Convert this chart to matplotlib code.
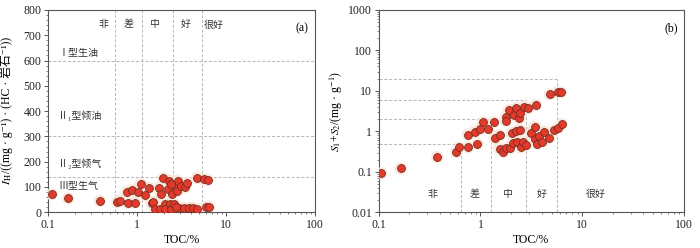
import matplotlib
matplotlib.use("Agg")
import matplotlib.pyplot as plt
from matplotlib.ticker import MultipleLocator, LogLocator, NullFormatter, FixedLocator, FixedFormatter

plt.rcParams['font.family'] = ['Liberation Serif', 'Noto Sans CJK SC', 'DejaVu Sans']
plt.rcParams['mathtext.fontset'] = 'stix'
plt.rcParams['axes.unicode_minus'] = False

# panel (a): TOC vs hydrogen index
toc_a = [0.109, 0.168, 0.38, 0.6, 0.64, 0.76, 0.78, 0.88, 0.94, 1.03, 1.09, 1.23,
         1.36, 1.45, 1.52, 1.58, 1.78, 1.84, 1.97, 1.82, 2.05, 2.08, 2.28, 2.24,
         2.35, 2.42, 2.45, 2.58, 2.6, 2.85, 2.8, 2.95, 3.1, 3.45, 3.6, 3.35, 3.8,
         4.2, 4.75, 4.7, 5.6, 6.2, 5.9, 6.4, 2.4, 2.7]
ih = [71, 55, 45, 40, 46, 82, 36, 87, 38, 79, 112, 67,
      97, 36, 42, 14, 97, 74, 135, 14, 33, 14, 124, 94,
      33, 14, 74, 106, 33, 125, 85, 16, 104, 98, 117, 17, 17,
      17, 13, 137, 130, 128, 21, 21, 112, 22]

# panel (b): TOC vs S1+S2
toc_b = [0.106, 0.164, 0.377, 0.58, 0.62, 0.75, 0.75, 0.88, 0.93, 1.0, 1.06, 1.19,
         1.35, 1.38, 1.54, 1.54, 1.66, 1.8, 1.77, 1.77, 1.9, 1.95, 2.04, 2.1,
         2.15, 2.25, 2.25, 2.3, 2.4, 2.45, 2.45, 2.5, 2.6, 2.7, 2.8, 2.95,
         3.15, 3.4, 3.5, 3.4, 3.6, 3.8, 4.0, 4.2, 4.7, 4.8, 5.3, 5.8, 5.8, 6.2, 6.3]
s1s2 = [0.092, 0.122, 0.23, 0.31, 0.4, 0.4, 0.83, 0.98, 0.5, 1.15, 1.7, 1.15,
        1.7, 0.67, 0.8, 0.37, 0.31, 0.38, 2.3, 1.85, 3.4, 0.38, 0.92, 0.52,
        2.5, 3.7, 1.0, 0.55, 2.1, 2.8, 1.1, 0.4, 0.55, 4.0, 0.45, 3.7,
        0.9, 1.3, 4.5, 0.63, 0.5, 0.77, 0.56, 0.98, 0.7, 8.2, 1.05, 9.2, 1.2, 9.2, 1.5]

# grade boundaries
bounds_a = [0.56, 1.12, 2.5, 5.3]
ih_lines = [600, 300, 140]
bounds_b = [0.64, 1.28, 2.8, 5.7]
s_lines = [0.5, 2, 6, 20]
grades = ['非', '差', '中', '好', '很好']
grade_x_a = [0.42, 0.8, 1.6, 3.5, 7.2]
grade_x_b = [0.34, 0.88, 1.87, 4.05, 13.5]
types = ['Ⅰ型生油', 'Ⅱ\u2081型倾油', 'Ⅱ\u2082型倾气', 'Ⅲ型生气']
type_y = [628, 380, 191, 101]

red = '#e23b2b'
edge = '#7a2a1e'
grid_c = '#b5b5b5'
spine_c = '#555555'
fs = 8.5
fs_cn = 7.2

fig = plt.figure(figsize=(7, 2.48), dpi=100)
ax1 = fig.add_axes([0.069, 0.144, 0.381, 0.816])
ax2 = fig.add_axes([0.541, 0.144, 0.436, 0.816])


def style(ax):
    for s in ax.spines.values():
        s.set_color(spine_c)
        s.set_linewidth(0.8)
    ax.tick_params(which='major', direction='out', length=3, width=0.7, pad=2,
                   colors=spine_c, labelcolor='#222222', labelsize=fs)
    ax.tick_params(which='minor', direction='out', length=1.5, width=0.5, colors=spine_c)
    ax.set_xscale('log')
    ax.set_xlim(0.1, 100)
    ax.xaxis.set_major_locator(FixedLocator([0.1, 1, 10, 100]))
    ax.xaxis.set_major_formatter(FixedFormatter(['0.1', '1', '10', '100']))
    ax.xaxis.set_minor_locator(LogLocator(base=10, subs=range(2, 10)))
    ax.xaxis.set_minor_formatter(NullFormatter())
    ax.set_xlabel('TOC/%', fontsize=fs, labelpad=2)


def dots(ax, x, y):
    ax.scatter(x, y, s=80, color='#fbe4d8', edgecolor='none', zorder=3, alpha=0.8)
    ax.scatter(x, y, s=32, color=red, edgecolor=edge, linewidth=0.6, zorder=4)


# ---- (a)
style(ax1)
ax1.set_ylim(0, 800)
ax1.yaxis.set_major_locator(MultipleLocator(100))
ax1.yaxis.set_minor_locator(MultipleLocator(20))
for b in bounds_a:
    ax1.axvline(b, color=grid_c, ls='--', lw=0.7, dashes=(3, 2), zorder=1)
for h in ih_lines:
    ax1.axhline(h, color=grid_c, ls='--', lw=0.7, dashes=(3, 2), zorder=1)
for g, gx in zip(grades, grade_x_a):
    ax1.text(gx, 741, g, fontsize=fs_cn, ha='center', va='center', color='#333333')
for t, ty in zip(types, type_y):
    ax1.text(0.13, ty, t, fontsize=fs_cn, ha='left', va='center', color='#333333')
ax1.text(0.975, 0.91, '(a)', transform=ax1.transAxes, fontsize=fs, ha='right', va='center')
dots(ax1, toc_a, ih)

# y label of (a) built from two pieces so the CJK part keeps its font
fig.canvas.draw()
r = fig.canvas.get_renderer()
H = fig.get_size_inches()[1] * fig.dpi
lab_x = 10 / 700
p1 = fig.text(lab_x, 0, '$I_{\\rm H}$', fontsize=fs, rotation=90,
              rotation_mode='anchor', ha='left', va='baseline')
p2 = fig.text(lab_x, 0, '/((mg · g⁻¹) · (HC · 岩石⁻¹))', fontsize=fs, rotation=90,
              rotation_mode='anchor', ha='left', va='baseline')
l1 = p1.get_window_extent(r).height
l2 = p2.get_window_extent(r).height
ax_mid = (0.144 + 0.816 / 2) * H
y0 = ax_mid - (l1 + l2) / 2
p1.set_y(y0 / H)
p2.set_y((y0 + l1) / H)

# ---- (b)
style(ax2)
ax2.set_yscale('log')
ax2.set_ylim(0.01, 1000)
ax2.yaxis.set_major_locator(FixedLocator([0.01, 0.1, 1, 10, 100, 1000]))
ax2.yaxis.set_major_formatter(FixedFormatter(['0.01', '0.1', '1', '10', '100', '1000']))
ax2.yaxis.set_minor_locator(LogLocator(base=10, subs=range(2, 10)))
ax2.yaxis.set_minor_formatter(NullFormatter())
for b, h in zip(bounds_b, s_lines):
    ax2.plot([0.1, b], [h, h], color=grid_c, ls='--', lw=0.7, dashes=(3, 2), zorder=1)
    ax2.plot([b, b], [0.01, h], color=grid_c, ls='--', lw=0.7, dashes=(3, 2), zorder=1)
for g, gx in zip(grades, grade_x_b):
    ax2.text(gx, 0.028, g, fontsize=fs_cn, ha='center', va='center', color='#333333')
ax2.text(0.98, 0.91, '(b)', transform=ax2.transAxes, fontsize=fs, ha='right', va='center')
dots(ax2, toc_b, s1s2)
ax2.set_ylabel('$S_1$+$S_2$/(mg · g$^{-1}$)', fontsize=fs, labelpad=2)

fig.savefig('out.png', dpi=100)
